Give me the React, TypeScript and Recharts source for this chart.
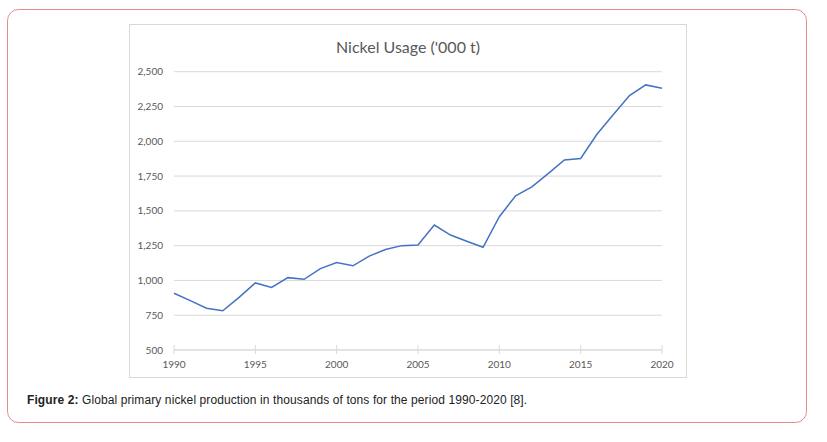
import React from "react";
import { LineChart, Line, XAxis, YAxis, CartesianGrid } from "recharts";

const years: number[] = [
  1990, 1991, 1992, 1993, 1994, 1995, 1996, 1997, 1998, 1999, 2000, 2001, 2002, 2003, 2004, 2005,
  2006, 2007, 2008, 2009, 2010, 2011, 2012, 2013, 2014, 2015, 2016, 2017, 2018, 2019, 2020,
];
const usage: number[] = [
  908, 855, 800, 782, 878, 982, 950, 1020, 1008, 1085, 1128, 1105, 1175, 1222, 1250, 1255,
  1398, 1326, 1282, 1238, 1458, 1608, 1672, 1768, 1866, 1876, 2050, 2190, 2328, 2405, 2381,
];
const yTicks: number[] = [500, 750, 1000, 1250, 1500, 1750, 2000, 2250, 2500];
const chartTitle = "Nickel Usage ('000 t)";
const captionBold = "Figure 2:";
const captionText = " Global primary nickel production in thousands of tons for the period 1990-2020 [8].";

const data = years.map((y, i) => ({ year: y, value: usage[i] }));

const AXIS_GREY = "#d9d9d9";
const LABEL_GREY = "#595959";
const FONT = "Lato, 'Open Sans', sans-serif";

const XTick = (props: any) => {
  const { x, y, payload } = props;
  return (
    <g>
      <line x1={x} x2={x} y1={y - 5} y2={y + 4} stroke={AXIS_GREY} strokeWidth={1} />
      <text x={x} y={y + 18} textAnchor="middle" fill={LABEL_GREY} fontSize={10} fontFamily={FONT}>
        {payload.value}
      </text>
    </g>
  );
};

export default function App() {
  return (
    <div style={{ position: "absolute", left: 0, top: 0, width: 827, height: 442, background: "#fff" }}>
      <svg width={827} height={442} style={{ position: "absolute", left: 0, top: 0 }}>
        <rect x={7.5} y={9.5} width={799} height={413} rx={11} ry={11} fill="#fff" stroke="#e88a8c" strokeWidth={1} />
        <rect x={129.5} y={24.5} width={557} height={353} fill="#fff" stroke={AXIS_GREY} strokeWidth={1} />
        <text x={408} y={52.5} textAnchor="middle" fill={LABEL_GREY} fontSize={16} fontFamily={FONT}>
          {chartTitle}
        </text>
        <text x={27} y={403.5} fill="#222" fontSize={12} letterSpacing={0.1} fontFamily="'Liberation Sans', Arial, sans-serif">
          <tspan fontWeight="bold">{captionBold}</tspan>
          <tspan>{captionText}</tspan>
        </text>
      </svg>
      <div style={{ position: "absolute", left: 129, top: 24 }}>
        <LineChart width={558} height={354} data={data} margin={{ top: 47.7, right: 25, bottom: 0, left: 0 }}>
          <CartesianGrid vertical={false} stroke={AXIS_GREY} strokeWidth={1} />
          <XAxis
            dataKey="year"
            interval={4}
            height={28}
            tickSize={0}
            tickMargin={0}
            tickLine={false}
            axisLine={{ stroke: AXIS_GREY, strokeWidth: 1 }}
            tick={<XTick />}
            padding={{ left: 0, right: 0 }}
          />
          <YAxis
            width={45}
            domain={[500, 2500]}
            ticks={yTicks}
            interval={0}
            axisLine={false}
            tickLine={false}
            tickSize={6}
            tickMargin={5}
            tick={{ fill: LABEL_GREY, fontSize: 10, fontFamily: FONT }}
            tickFormatter={(v: number) => v.toLocaleString("en-US")}
          />
          <Line
            type="linear"
            dataKey="value"
            stroke="#4472c4"
            strokeWidth={1.5}
            dot={false}
            isAnimationActive={false}
          />
        </LineChart>
      </div>
    </div>
  );
}
